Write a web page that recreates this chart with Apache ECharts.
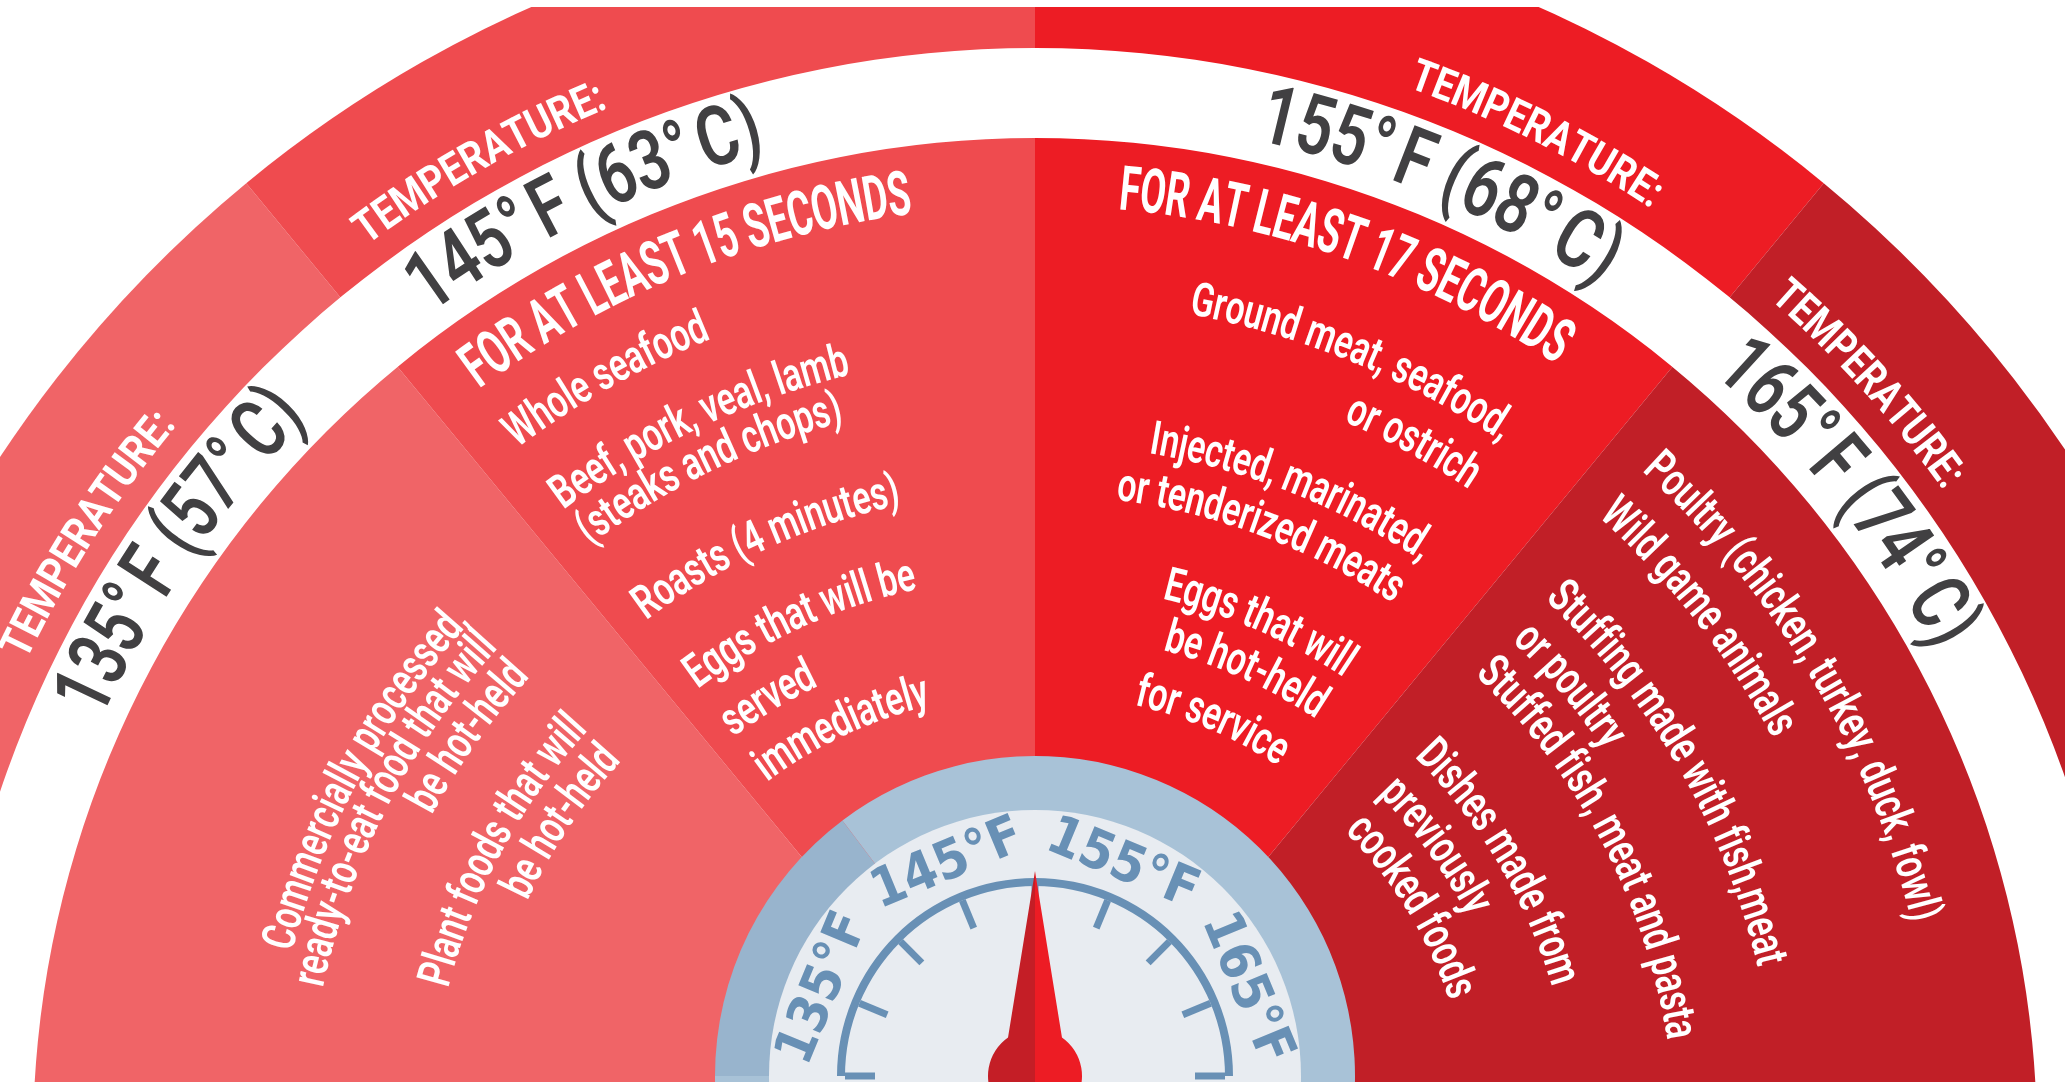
<!DOCTYPE html>
<html><head><meta charset="utf-8">
<script src="https://cdn.jsdelivr.net/npm/echarts@6/dist/echarts.min.js"></script>
<style>html,body{margin:0;padding:0;background:#fff;}#c{width:2065px;height:1082px;}</style>
</head><body><div id="c"></div>
<script>
// ---------------- data ----------------
const tempBands = ['135°F', '145°F', '155°F', '165°F'];
const bandSpanDeg = [50.5, 39.5, 39.5, 50.5];
const headingLabel = 'TEMPERATURE:';
const tempTitles = ['135°F (57°C)', '145°F (63°C)', '155°F (68°C)', '165°F (74°C)'];
const holdTimes = [null, 'FOR AT LEAST 15 SECONDS', 'FOR AT LEAST 17 SECONDS', null];
const foods135 = ['Commercially processed,', 'ready-to-eat food that will', 'be hot-held', 'Plant foods that will', 'be hot-held'];
const foods145 = ['Whole seafood', 'Beef, pork, veal, lamb', '(steaks and chops)', 'Roasts (4 minutes)', 'Eggs that will be', 'served', 'immediately'];
const foods155 = ['Ground meat, seafood,', 'or ostrich', 'Injected, marinated,', 'or tenderized meats', 'Eggs that will', 'be hot-held', 'for service'];
const foods165 = ['Poultry (chicken, turkey, duck, fowl)', 'Wild game animals', 'Stuffing made with fish,meat', 'or poultry', 'Stuffed fish, meat and pasta', 'Dishes made from', 'previously', 'cooked foods'];
const dialMin = 130, dialMax = 170, dialSplits = 8, needleValue = 150;
const dialTickLabels = ['135°F', '145°F', '155°F', '165°F'];

// ---------------- layout & style ----------------
const C = { x: 1035, y: 1140 };          // wheel centre
const G = { x: 1035, y: 1076 };          // dial centre
const R_OUT = 1240, RING_IN = 1002, RING_OUT = 1092;
const bandColors = ['#F06467', '#EF4B4F', '#ED1C24', '#C11F27'];
const headingPos = [[-57.4, 14.4], [-29.6, 14.3], [26.5, 14.0], [47.8, 13.3]];
const titlePos = [[-55.5, 20.5], [-25.7, 21.0], [23.0, 21.0], [51.5, 20.0]];
const holdPos = [null, [-22.0, 29.0], [19.5, 28.8], null];
// each food line: [arc radius, anchor angle (deg, clockwise from top)]
const foodAlign = ['right', 'left', 'right', 'left'];
const foodArcs = [
  [[778, -47.5], [740, -47.5], [697, -47.5], [618, -47.5], [573, -47.5]],
  [[876, -36.8], [799, -36.8], [755, -36.8], [661, -36.8], [575, -36.8], [515, -36.8], [459, -36.8]],
  [[852, 33.7], [794, 33.7], [708, 33.7], [657, 33.7], [568, 33.7], [518, 33.7], [458, 33.0]],
  [[915, 42.2], [852, 42.1], [755, 43.3], [702, 43.7], [652, 43.4], [551, 44.7], [499, 44.8], [449, 45.1]]
];
const foodLists = [foods135, foods145, foods155, foods165];
const FONT = 'Roboto';
const FOOD_SIZE = 47, FOOD_WEIGHT = 600, FOOD_SCALE = 0.72;

const mctx = document.createElement('canvas').getContext('2d');
const els = [];
const rad = d => d * Math.PI / 180;

// text set along a circle about the wheel centre
function arcText(str, o) {
  mctx.font = o.weight + ' ' + o.size + 'px ' + FONT;
  const chars = Array.from(str);
  const ws = chars.map(ch => mctx.measureText(ch).width);
  const gaps = chars.map(ch => ch === '°' ? o.size * (o.degGap || 0) : 0);
  const natural = ws.reduce((a, b) => a + b, 0) + gaps.reduce((a, b) => a + b, 0);
  let s = o.scale, start;
  if (o.span) {
    s = o.r * rad(o.span) / natural;
    start = rad(o.deg) - rad(o.span) / 2;
  } else {
    const L = natural * s;
    if (o.align === 'left') start = rad(o.deg);
    else if (o.align === 'right') start = rad(o.deg) - L / o.r;
    else start = rad(o.deg) - L / (2 * o.r);
  }
  let acc = 0;
  chars.forEach((ch, i) => {
    const w = ws[i] * s;
    const th = start + (acc + w / 2) / o.r;
    acc += w + gaps[i] * s;
    if (ch === ' ') return;
    els.push({
      type: 'text', x: C.x + o.r * Math.sin(th), y: C.y - o.r * Math.cos(th),
      rotation: -th, scaleX: s, z: 20, silent: true,
      style: { text: ch, fill: o.color, fontSize: o.size, fontWeight: o.weight, fontFamily: FONT, align: 'center', verticalAlign: 'middle' }
    });
  });
}

tempBands.forEach((b, i) => {
  arcText(headingLabel, { deg: headingPos[i][0], span: headingPos[i][1], r: 1128, size: 45, weight: 700, color: '#FFFFFF' });
  arcText(tempTitles[i], { deg: titlePos[i][0], span: titlePos[i][1], r: 1045, size: 83, weight: 600, color: '#414042', degGap: 0.12 });
  if (holdTimes[i]) arcText(holdTimes[i], { deg: holdPos[i][0], span: holdPos[i][1], r: 950, size: 62, weight: 700, color: '#FFFFFF' });
  foodLists[i].forEach((t, j) => arcText(t, {
    deg: foodArcs[i][j][1], r: foodArcs[i][j][0], align: foodAlign[i],
    size: FOOD_SIZE, weight: FOOD_WEIGHT, scale: FOOD_SCALE, color: '#FFFFFF'
  }));
});
els.push({ type: 'rect', shape: { x: 0, y: 0, width: 2065, height: 7 }, style: { fill: '#FFFFFF' }, z: 30, silent: true });

const needleLeft = 'path://M0 0 M94 252 M47 0 L20 166.5 A47 47 0 0 0 47 252 Z';
const needleRight = 'path://M0 0 M94 252 M47 0 L74 166.5 A47 47 0 0 1 47 252 Z';

const pieBase = { type: 'pie', silent: true, clockwise: true, label: { show: false }, labelLine: { show: false }, emphasis: { disabled: true }, animation: false };

const option = {
  animation: false,
  backgroundColor: '#FFFFFF',
  series: [
    Object.assign({}, pieBase, {
      z: 1, center: [C.x, C.y], radius: [0, R_OUT], startAngle: 180,
      data: bandSpanDeg.map((v, i) => ({ name: tempBands[i], value: v, itemStyle: { color: bandColors[i], borderWidth: 0 } }))
        .concat([{ name: 'rest', value: 360 - bandSpanDeg.reduce((a, b) => a + b, 0), itemStyle: { color: 'rgba(0,0,0,0)', borderWidth: 0 } }])
    }),
    Object.assign({}, pieBase, {
      z: 2, center: [C.x, C.y], radius: [RING_IN, RING_OUT], startAngle: 90,
      data: [{ value: 1, itemStyle: { color: '#FFFFFF', borderWidth: 0 } }]
    }),
    Object.assign({}, pieBase, {
      z: 3, center: [G.x, G.y], radius: [0, 320], startAngle: 180,
      data: [{ value: 53, itemStyle: { color: '#98B4CD', borderWidth: 0 } }, { value: 307, itemStyle: { color: '#A8C2D7', borderWidth: 0 } }]
    }),
    Object.assign({}, pieBase, {
      z: 4, center: [G.x, G.y], radius: [0, 266], startAngle: 90,
      data: [{ value: 1, itemStyle: { color: '#E8ECF1', borderWidth: 0 } }]
    }),
    {
      type: 'gauge', z: 5, silent: true, center: [G.x, G.y], radius: 198, startAngle: 180, endAngle: 0,
      min: dialMin, max: dialMax, splitNumber: dialSplits,
      axisLine: { show: true, lineStyle: { width: 8, color: [[1, '#6890B5']] } },
      axisTick: { show: false },
      splitLine: { show: true, distance: 0, length: 30, lineStyle: { color: '#6890B5', width: 7, cap: 'butt' } },
      axisLabel: {
        show: true, distance: -60, rotate: 'tangential', color: '#6890B5', fontSize: 54, fontWeight: 'bold',
        fontFamily: "'Liberation Sans Narrow', 'Arial Narrow', 'DejaVu Sans Condensed', sans-serif",
        formatter: v => { const s = Math.round(v) + '°F'; return dialTickLabels.indexOf(s) >= 0 ? s : ''; }
      },
      pointer: { show: true, icon: needleLeft, length: 252, width: 94, offsetCenter: [0, 47], keepAspect: false, itemStyle: { color: '#C41E26' } },
      anchor: { show: false }, title: { show: false }, detail: { show: false }, progress: { show: false },
      data: [{ value: needleValue }]
    },
    {
      type: 'gauge', z: 6, silent: true, center: [G.x, G.y], radius: 198, startAngle: 180, endAngle: 0,
      min: dialMin, max: dialMax, splitNumber: dialSplits,
      axisLine: { show: false }, axisTick: { show: false }, splitLine: { show: false }, axisLabel: { show: false },
      pointer: { show: true, icon: needleRight, length: 252, width: 94, offsetCenter: [0, 47], keepAspect: false, itemStyle: { color: '#ED1C24' } },
      anchor: { show: false }, title: { show: false }, detail: { show: false }, progress: { show: false },
      data: [{ value: needleValue }]
    }
  ],
  graphic: { elements: els }
};

const chart = echarts.init(document.getElementById('c'), null, { renderer: 'canvas' });
chart.setOption(option);
</script>
</body></html>
